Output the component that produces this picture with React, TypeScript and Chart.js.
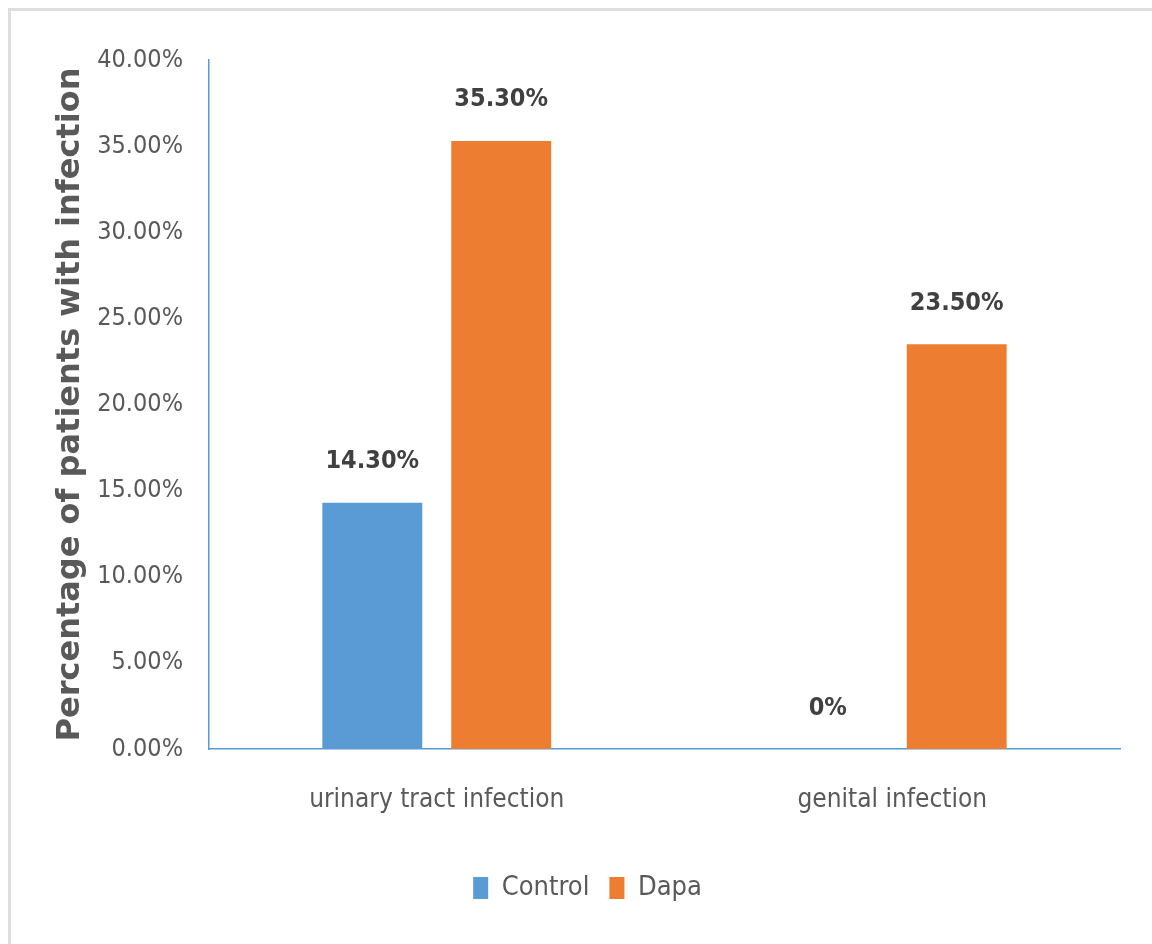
import React, { useEffect, useRef } from "react";
import { Chart, registerables } from "chart.js";

Chart.register(...registerables);

const categories = ["urinary tract infection", "genital infection"];
const controlValues = [14.3, 0];
const dapaValues = [35.3, 23.5];
const yTicksMax = 40;
const yTickStep = 5;

const NARROW = "'Liberation Sans Narrow', 'DejaVu Sans Condensed', sans-serif";

const dataLabelPlugin = {
  id: "dataLabels",
  afterDatasetsDraw(chart: any) {
    const ctx = chart.ctx;
    ctx.save();
    ctx.font = `bold 25px ${NARROW}`;
    ctx.fillStyle = "#404040";
    ctx.textAlign = "center";
    ctx.textBaseline = "middle";
    chart.data.datasets.forEach((ds: any, di: number) => {
      const meta = chart.getDatasetMeta(di);
      meta.data.forEach((el: any, i: number) => {
        const v = ds.data[i];
        const txt = v === 0 ? "0%" : v.toFixed(2) + "%";
        ctx.fillText(txt, el.x, el.y - 41);
      });
    });
    ctx.restore();
  },
};

export default function App() {
  const ref = useRef<HTMLCanvasElement>(null);
  useEffect(() => {
    if (!ref.current) return;
    const chart = new Chart(ref.current, {
      type: "bar",
      data: {
        labels: categories,
        datasets: [
          {
            label: "Control",
            data: controlValues,
            backgroundColor: "#5B9BD5",
            categoryPercentage: 0.566,
            barPercentage: 0.775,
          },
          {
            label: "Dapa",
            data: dapaValues,
            backgroundColor: "#ED7D31",
            categoryPercentage: 0.566,
            barPercentage: 0.775,
          },
        ],
      },
      options: {
        animation: false,
        responsive: false,
        maintainAspectRatio: false,
        layout: { padding: { top: 60, left: 55, right: 55, bottom: 32.5 } },
        plugins: {
          tooltip: { enabled: false },
          legend: {
            position: "bottom",
            labels: {
              boxWidth: 15,
              boxHeight: 22,
              padding: 20,
              color: "#595959",
              font: { family: NARROW, size: 27 },
            },
          },
        },
        scales: {
          x: {
            grid: { display: false, drawTicks: false },
            border: { display: true, color: "#5B9BD5", width: 1.5 },
            ticks: {
              color: "#595959",
              padding: 36,
              font: { family: NARROW, size: 26 },
            },
            afterFit: (s: any) => {
              s.height = 105.5;
            },
          },
          y: {
            min: 0,
            max: yTicksMax,
            grid: { display: false, drawTicks: false },
            border: { display: true, color: "#5B9BD5", width: 1.5 },
            ticks: {
              stepSize: yTickStep,
              color: "#595959",
              padding: 26,
              font: { family: NARROW, size: 25 },
              callback: (v: any) => Number(v).toFixed(2) + "%",
            },
            title: {
              display: true,
              text: "Percentage of patients with infection",
              color: "#595959",
              padding: { top: -4, bottom: 0 },
              font: { family: "'DejaVu Sans', sans-serif", size: 32, weight: "bold" },
            },
            afterFit: (s: any) => {
              s.width = 154;
            },
          },
        },
      },
      plugins: [dataLabelPlugin],
    });
    return () => chart.destroy();
  }, []);
  return (
    <>
      <div
        style={{
          position: "fixed",
          left: 8,
          top: 8,
          width: 1300,
          height: 1100,
          borderTop: "3px solid #dedede",
          borderLeft: "3px solid #dedede",
          boxSizing: "border-box",
        }}
      />
      <canvas
        ref={ref}
        width={1175}
        height={944}
        style={{ position: "fixed", left: 0, top: 0, width: 1175, height: 944 }}
      />
    </>
  );
}
